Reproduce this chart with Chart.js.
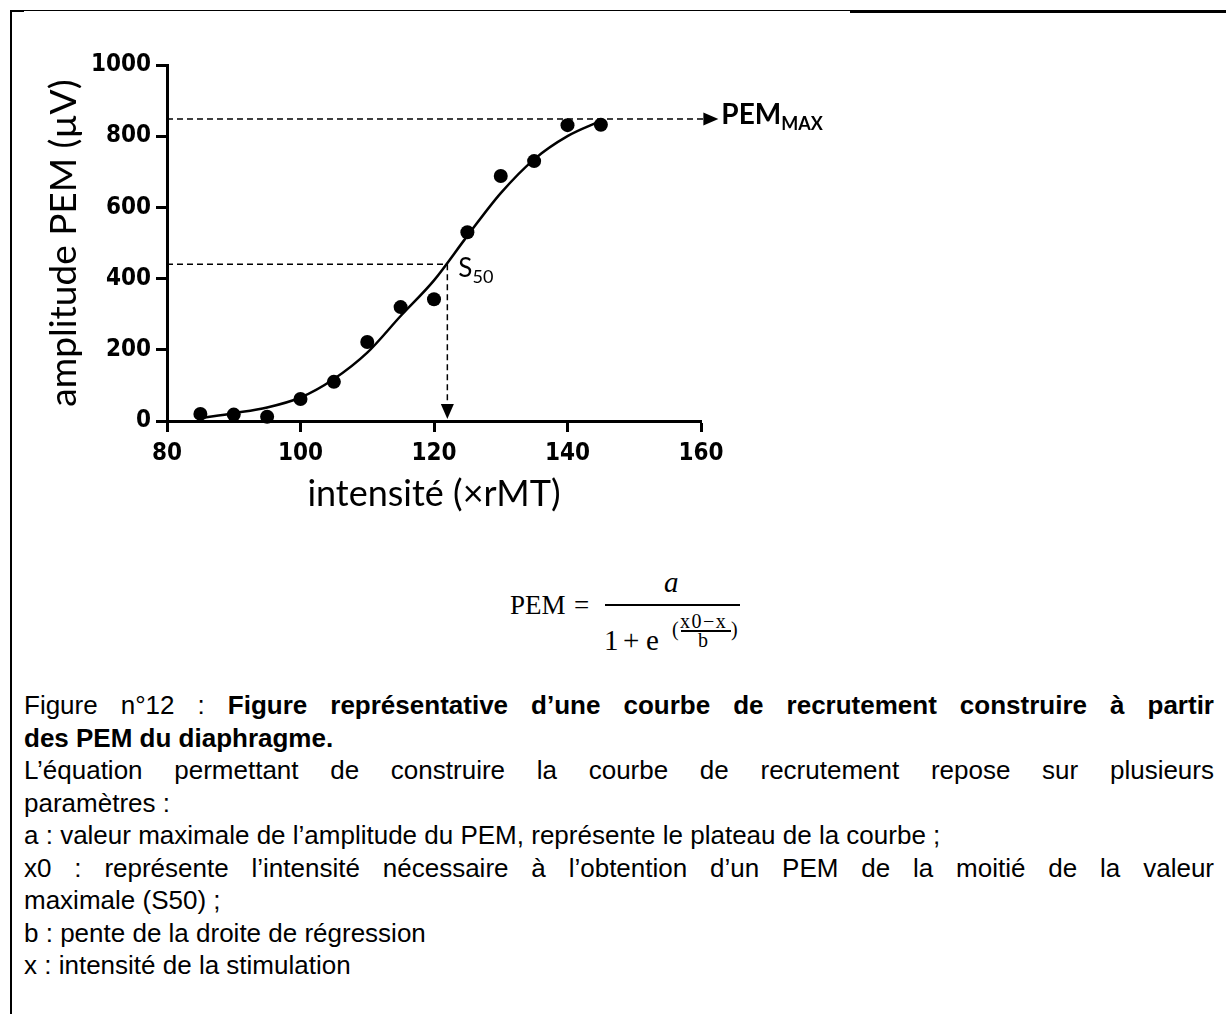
<!DOCTYPE html>
<html>
<head>
<meta charset="utf-8">
<script src="https://cdn.jsdelivr.net/npm/chart.js@4.4.1/dist/chart.umd.min.js"></script>
<style>
  html, body { margin: 0; padding: 0; background: #fff; }
  body { width: 1226px; height: 1014px; position: relative; overflow: hidden; }
  #chart { position: absolute; left: 0; top: 0; }
  .frame-left { position: absolute; left: 10px; top: 10px; width: 2px; height: 1004px; background: #000; }
  .frame-top { position: absolute; left: 10px; top: 10px; width: 1216px; height: 1px; background: #000; }
  .frame-top2 { position: absolute; left: 850px; top: 10px; width: 376px; height: 3px; background: #000; }
  .frame-top3 { position: absolute; left: 10px; top: 10px; width: 14px; height: 2px; background: #000; }
  .eq { position: absolute; font-family: "Liberation Serif", "DejaVu Serif", serif; color: #000; line-height: 1; white-space: nowrap; }
  .bar { position: absolute; background: #000; }
  #caption { position: absolute; left: 24px; top: 689px; width: 1190px;
    font-family: "Liberation Sans", Arial, sans-serif; font-size: 26px; line-height: 32.5px; color: #000; }
  #caption div { white-space: nowrap; }
  #caption div.j { text-align: justify; text-align-last: justify; }
</style>
</head>
<body>
<canvas id="chart" width="1226" height="540"></canvas>
<div class="frame-left"></div>
<div class="frame-top"></div>
<div class="frame-top2"></div>
<div class="frame-top3"></div>

<div class="eq" style="left:510px; top:592px; font-size:27px;">PEM</div>
<div class="eq" style="left:574px; top:592px; font-size:27px;">=</div>
<div class="bar" style="left:605px; top:604px; width:135px; height:2px;"></div>
<div class="eq" style="left:664px; top:568px; font-size:29px; font-style:italic;">a</div>
<div class="eq" style="left:604px; top:626px; font-size:29px;">1</div>
<div class="eq" style="left:623px; top:626px; font-size:29px;">+</div>
<div class="eq" style="left:646px; top:626px; font-size:29px;">e</div>
<div class="eq" style="left:672px; top:619px; font-size:20px;">(</div>
<div class="eq" style="left:680px; top:611px; font-size:20px; letter-spacing:1.5px;">x0−x</div>
<div class="bar" style="left:681px; top:630px; width:50px; height:1.5px;"></div>
<div class="eq" style="left:698px; top:630px; font-size:20px;">b</div>
<div class="eq" style="left:731px; top:619px; font-size:20px;">)</div>

<div id="caption">
  <div class="j">Figure n°12 : <b>Figure représentative d’une courbe de recrutement construire à partir</b></div>
  <div><b>des PEM du diaphragme.</b></div>
  <div class="j">L’équation permettant de construire la courbe de recrutement repose sur plusieurs</div>
  <div>paramètres :</div>
  <div>a : valeur maximale de l’amplitude du PEM, représente le plateau de la courbe ;</div>
  <div class="j">x0 : représente l’intensité nécessaire à l’obtention d’un PEM de la moitié de la valeur</div>
  <div>maximale (S50) ;</div>
  <div>b : pente de la droite de régression</div>
  <div>x : intensité de la stimulation</div>
</div>

<script>
// measured points (intensité, amplitude)
const intensity = [85, 90, 95, 100, 105, 110, 115, 120, 125, 130, 135, 140, 145];
const amplitude = [20, 18, 12, 62, 110, 222, 320, 342, 530, 688, 730, 831, 832];

// fitted sigmoid
const fitX = [85, 90, 95, 100, 105, 110, 115, 120, 125, 130, 135, 140, 145];
const fitY = [8, 22, 38, 66, 118, 192, 295, 395, 520, 640, 735, 800, 843];

// reference lines
const pemMax = 848;
const pemMaxLineEnd = 160.3;
const pemMaxTip = 162.6;
const s50X = 122;
const s50Y = 440;
const s50ArrowBase = 45;

const xTicks = [80, 100, 120, 140, 160];
const yTicks = [0, 200, 400, 600, 800, 1000];

const tickFont = { family: "'DejaVu Sans Condensed', 'DejaVu Sans', sans-serif", size: 24, weight: 'bold' };
const titleFamily = "Lato, 'Open Sans', sans-serif";

function arrowHead(ctx, x, y, dir) {
  const len = 15, half = 6.5;
  ctx.beginPath();
  if (dir === 'right') {
    ctx.moveTo(x, y);
    ctx.lineTo(x - len, y - half);
    ctx.lineTo(x - len, y + half);
  } else {
    ctx.moveTo(x, y);
    ctx.lineTo(x - half, y - len);
    ctx.lineTo(x + half, y - len);
  }
  ctx.closePath();
  ctx.fill();
}

const annotate = {
  id: 'annotate',
  afterDatasetsDraw(chart) {
    const { ctx, scales: { x, y } } = chart;
    ctx.save();
    ctx.fillStyle = '#000';
    ctx.textBaseline = 'alphabetic';
    ctx.textAlign = 'left';

    // PEM max arrow + label
    const tx = x.getPixelForValue(pemMaxTip);
    const ty = y.getPixelForValue(pemMax);
    arrowHead(ctx, tx, ty, 'right');
    ctx.font = 'bold 28px ' + titleFamily;
    ctx.fillText('PEM', tx + 3, ty + 5);
    const w = ctx.measureText('PEM').width;
    ctx.font = 'bold 18px ' + titleFamily;
    ctx.fillText('MAX', tx + 3 + w, ty + 11);

    // S50 arrow + label
    const sx = x.getPixelForValue(s50X);
    const sy = y.getPixelForValue(s50Y);
    arrowHead(ctx, sx, y.getPixelForValue(0) - 2, 'down');
    ctx.font = '26px ' + titleFamily;
    ctx.fillText('S', sx + 11, sy + 13);
    const ws = ctx.measureText('S').width;
    ctx.font = '18px ' + titleFamily;
    ctx.fillText('50', sx + 11 + ws, sy + 19);
    ctx.restore();
  }
};

const dashed = {
  type: 'line',
  borderColor: '#000',
  borderWidth: 1.5,
  borderDash: [6, 4],
  pointRadius: 0,
  fill: false,
  clip: false,
  order: 3
};

const config = {
  type: 'line',
  data: {
    datasets: [
      {
        label: 'points',
        type: 'scatter',
        data: intensity.map((v, i) => ({ x: v, y: amplitude[i] })),
        backgroundColor: '#000',
        borderColor: '#000',
        pointRadius: 7,
        pointBorderWidth: 0,
        showLine: false,
        clip: false,
        order: 0
      },
      {
        label: 'fit',
        data: fitX.map((v, i) => ({ x: v, y: fitY[i] })),
        borderColor: '#000',
        borderWidth: 2.5,
        pointRadius: 0,
        cubicInterpolationMode: 'monotone',
        fill: false,
        clip: false,
        order: 1
      },
      Object.assign({ label: 'max', data: [{ x: 80, y: pemMax }, { x: pemMaxLineEnd, y: pemMax }] }, dashed),
      Object.assign({ label: 's50h', data: [{ x: 80, y: s50Y }, { x: s50X, y: s50Y }] }, dashed),
      Object.assign({ label: 's50v', data: [{ x: s50X, y: s50Y }, { x: s50X, y: s50ArrowBase }] }, dashed)
    ]
  },
  options: {
    responsive: false,
    animation: false,
    events: [],
    layout: { padding: { top: 65, right: 525, bottom: 0, left: 0 } },
    plugins: {
      legend: { display: false },
      tooltip: { enabled: false }
    },
    scales: {
      x: {
        type: 'linear',
        min: 80,
        max: 160,
        afterFit: s => { s.height = 119; },
        afterBuildTicks: s => { s.ticks = xTicks.map(v => ({ value: v })); },
        border: { display: true, color: '#000', width: 3 },
        grid: { display: true, drawOnChartArea: false, drawTicks: true, tickLength: 11, tickWidth: 3, tickColor: '#000' },
        ticks: { color: '#000', font: tickFont, padding: 7, maxRotation: 0, callback: v => String(v) },
        title: { display: true, text: 'intensité (×rMT)', color: '#000', font: { family: titleFamily, size: 36 }, padding: { top: 0, bottom: 24 } }
      },
      y: {
        type: 'linear',
        min: 0,
        max: 1000,
        afterFit: s => { s.width = 167; },
        afterBuildTicks: s => { s.ticks = yTicks.map(v => ({ value: v })); },
        border: { display: true, color: '#000', width: 3 },
        grid: { display: true, drawOnChartArea: false, drawTicks: true, tickLength: 11, tickWidth: 3, tickColor: '#000' },
        ticks: { color: '#000', font: tickFont, padding: 5, callback: v => String(v) },
        title: { display: true, text: 'amplitude PEM (µV)', color: '#000', font: { family: titleFamily, size: 37 }, padding: { top: 42, bottom: 0 } }
      }
    }
  },
  plugins: [annotate]
};

const chart = new Chart(document.getElementById('chart').getContext('2d'), config);
</script>
</body>
</html>
